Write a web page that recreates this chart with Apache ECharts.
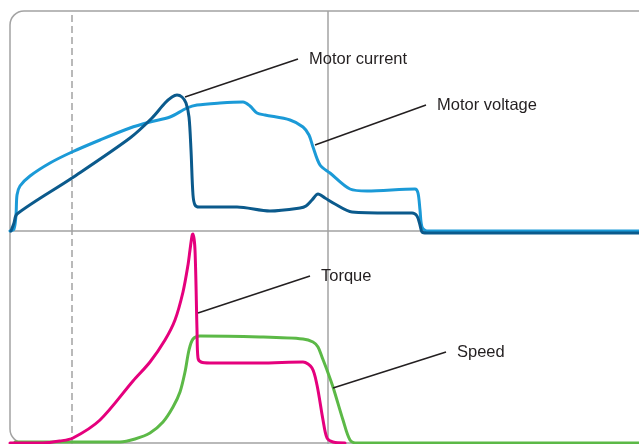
<!DOCTYPE html>
<html>
<head>
<meta charset="utf-8">
<script src="https://cdn.jsdelivr.net/npm/echarts@6/dist/echarts.min.js"></script>
<style>
html,body{margin:0;padding:0;background:#fff;}
#c{width:639px;height:444px;}
</style>
</head>
<body>
<div id="c"></div>
<script>
// Top pane series [time, value]
var motorCurrent = [[1,0],[4,8],[7,17],[62,53],[120,93],[142,113],[155,128],[162,134],[167,136],[172,134],[176,128],[179,114],[181,81],[183,36],[185,26],[189,24],[227,24],[260,20],[290,23],[296,25],[302,31],[308,37],[315,33],[325,27],[342,19],[380,18],[402,18],[407,15],[410,6],[412,-1],[417,-2],[450,-2],[629,-2]];
var motorVoltage = [[0,0],[4,2],[6,16],[7,36],[10,45],[20,55],[40,68],[62,79],[90,91],[120,103],[140,109],[160,114],[177,123],[187,126],[210,128],[233,129],[240,125],[247,118],[255,116],[280,111],[293,104],[299,96],[303,84],[310,66],[320,58],[340,42],[357,40],[405,42],[408,38],[410,21],[412,4],[417,0],[450,0],[629,0]];
// Bottom pane series
var torque = [[0,1],[33,1],[50,3],[63,6],[90,24],[123,63],[140,82],[155,104],[165,124],[173,152],[178,179],[180,194],[182,208],[183,210],[185,194],[187,114],[188,86],[191,82],[200,81],[250,81],[293,82],[302,76],[307,59],[313,24],[317,6],[323,2],[335,1]];
var speed = [[5,2],[110,2],[125,5],[140,11],[153,22],[163,37],[170,52],[175,72],[179,94],[183,105],[190,108],[250,107],[293,105],[303,102],[308,97],[312,87],[317,74],[323,57],[333,24],[340,4],[347,1],[629,1]];
// Annotation leaders
var leaderCurrent = [[175,134],[288,172]];
var leaderVoltage = [[305,86],[416,126]];
var leaderTorque = [[188,131],[300,168]];
var leaderSpeed = [[323,56],[436,92]];
var markerDashed = 62;
var markerSolid = 318;

var chart = echarts.init(document.getElementById('c'), null, {renderer:'canvas'});
var gray = '#a3a3a3';
function curve(name, data, color, gi){
  return {name:name, type:'line', xAxisIndex:gi, yAxisIndex:gi, data:data, showSymbol:false, symbol:'none',
    smooth:0.3, clip:false, lineStyle:{color:color, width:3, join:'round', cap:'round'}, z:5, silent:true};
}
function leader(name, data, gi){
  return {name:name, type:'line', xAxisIndex:gi, yAxisIndex:gi, data:data, symbol:'none', clip:false, z:6, silent:true,
    lineStyle:{color:'#231f20', width:1.5},
    endLabel:{show:true, formatter:name, color:'#231f20', fontSize:16.5, fontFamily:'Liberation Sans, Arial, sans-serif', distance:11}};
}
function vlines(gi){
  return {type:'line', xAxisIndex:gi, yAxisIndex:gi, data:[], silent:true, z:1,
    markLine:{silent:true, symbol:'none', animation:false, label:{show:false},
      data:[
        {xAxis:markerSolid, lineStyle:{color:gray, width:1.5, type:'solid'}},
        {xAxis:markerDashed, lineStyle:{color:gray, width:1.5, type:[7,4]}}
      ]}};
}
var axisX = function(gi, showLine){
  return {type:'value', gridIndex:gi, min:0, max:629, axisLabel:{show:false}, axisTick:{show:false}, splitLine:{show:false},
    axisLine:{show:showLine, lineStyle:{color:gray, width:1.5}}};
};
var axisY = function(gi, max){
  return {type:'value', gridIndex:gi, min:0, max:max, show:false};
};
chart.setOption({
  animation:false,
  grid:[{left:10, top:11, right:0, height:220}, {left:10, top:231, right:0, height:213}],
  xAxis:[axisX(0,true), axisX(1,false)],
  yAxis:[axisY(0,220), axisY(1,213)],
  graphic:[{type:'rect', shape:{x:10, y:11, width:660, height:432, r:14}, style:{fill:'none', stroke:gray, lineWidth:1.5}, z:0, silent:true}],
  series:[
    vlines(0), vlines(1),
    curve('Motor voltage', motorVoltage, '#1b9ad7', 0),
    curve('Motor current', motorCurrent, '#0b5a8c', 0),
    curve('Speed', speed, '#5cb947', 1),
    curve('Torque', torque, '#e5007d', 1),
    leader('Motor current', leaderCurrent, 0),
    leader('Motor voltage', leaderVoltage, 0),
    leader('Torque', leaderTorque, 1),
    leader('Speed', leaderSpeed, 1)
  ]
});
</script>
</body>
</html>
